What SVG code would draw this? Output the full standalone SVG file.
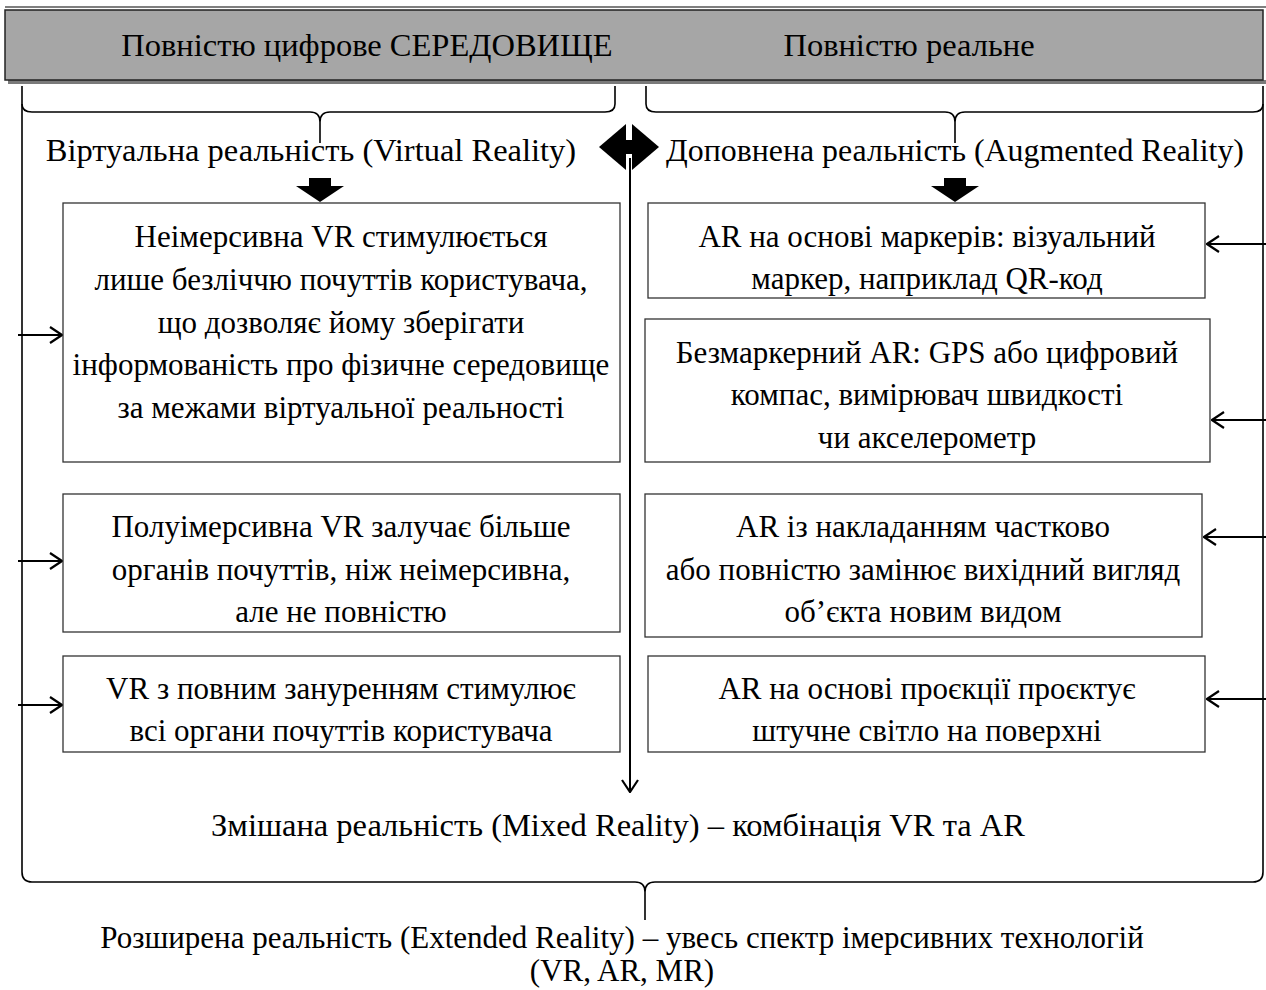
<svg xmlns="http://www.w3.org/2000/svg" width="1266" height="990" viewBox="0 0 1266 990">
<style>
  text { font-family: "Liberation Serif", "Times New Roman", serif; font-size: 31px; fill: #000; text-anchor: middle; }
  .lbl { font-size: 32.5px; }
  .box { fill: #fff; stroke: #333; stroke-width: 1.3; }
  .ln { fill: none; stroke: #000; stroke-width: 2; }
  .br { fill: none; stroke: #000; stroke-width: 1.6; }
</style>
<defs>
  <marker id="open" viewBox="0 0 14 18" refX="13" refY="9" markerWidth="14" markerHeight="18" markerUnits="userSpaceOnUse" orient="auto">
    <path d="M1,1 L13,9 L1,17" fill="none" stroke="#000" stroke-width="2.2"/>
  </marker>
</defs>

<g id="header">
  <line x1="5" y1="7" x2="1266" y2="7" stroke="#000" stroke-width="1.2"/>
  <rect x="8" y="80" width="1258" height="4" fill="#7a7a7a"/>
  <rect x="5" y="10" width="1258" height="70" fill="#a6a6a6" stroke="#222" stroke-width="1.5"/>
  <text class="lbl" x="367" y="56">Повністю цифрове СЕРЕДОВИЩЕ</text>
  <text class="lbl" x="909" y="56">Повністю реальне</text>
</g>

<g id="connectors">
  <path class="br" d="M22,86 L22,104 Q22,112 32,112 L310,112 Q320,112 320,122 L320,143 M320,122 Q320,112 330,112 L605,112 Q615,112 615,104 L615,86"/>
  <path class="br" d="M646,86 L646,104 Q646,112 656,112 L945,112 Q955,112 955,122 L955,143 M955,122 Q955,112 965,112 L1253,112 Q1263,112 1263,104 L1263,86"/>
  <path class="br" d="M22,104 L22,872 Q22,882 32,882 L635,882 Q645,882 645,892 L645,920 M645,892 Q645,882 655,882 L1253,882 Q1263,882 1263,872 L1263,104"/>
  <polygon points="599,147 626,124 626,170" fill="#000"/>
  <polygon points="659,147 632,124 632,170" fill="#000"/>
  <rect x="625" y="140" width="8" height="14" fill="#000"/>
  <line class="ln" x1="630" y1="158" x2="630" y2="792" marker-end="url(#open)"/>
  <polygon points="309,178 331,178 331,186 344,186 320,202 296,186 309,186" fill="#000"/>
  <polygon points="944,178 966,178 966,186 979,186 955,202 931,186 944,186" fill="#000"/>
  <line class="ln" x1="18" y1="335" x2="62" y2="335" marker-end="url(#open)"/>
  <line class="ln" x1="18" y1="561" x2="62" y2="561" marker-end="url(#open)"/>
  <line class="ln" x1="18" y1="705" x2="62" y2="705" marker-end="url(#open)"/>
  <line class="ln" x1="1266" y1="244" x2="1207" y2="244" marker-end="url(#open)"/>
  <line class="ln" x1="1266" y1="420" x2="1212" y2="420" marker-end="url(#open)"/>
  <line class="ln" x1="1266" y1="537" x2="1204" y2="537" marker-end="url(#open)"/>
  <line class="ln" x1="1266" y1="699" x2="1207" y2="699" marker-end="url(#open)"/>
</g>

<g id="vr-label"><text class="lbl" x="311" y="161">Віртуальна реальність (Virtual Reality)</text></g>
<g id="ar-label"><text class="lbl" x="955" y="161" textLength="578" lengthAdjust="spacingAndGlyphs">Доповнена реальність (Augmented Reality)</text></g>

<g id="vr1">
  <rect class="box" x="63" y="203" width="557" height="259"/>
  <text x="341" y="247">Неімерсивна VR стимулюється</text>
  <text x="341" y="290">лише безліччю почуттів користувача,</text>
  <text x="341" y="333">що дозволяє йому зберігати</text>
  <text x="341" y="375">інформованість про фізичне середовище</text>
  <text x="341" y="418">за межами віртуальної реальності</text>
</g>
<g id="vr2">
  <rect class="box" x="63" y="494" width="557" height="138"/>
  <text x="341" y="537">Полуімерсивна VR залучає більше</text>
  <text x="341" y="580">органів почуттів, ніж неімерсивна,</text>
  <text x="341" y="622">але не повністю</text>
</g>
<g id="vr3">
  <rect class="box" x="63" y="656" width="557" height="96"/>
  <text x="341" y="699">VR з повним зануренням стимулює</text>
  <text x="341" y="741">всі органи почуттів користувача</text>
</g>

<g id="ar1">
  <rect class="box" x="648" y="203" width="557" height="95"/>
  <text x="927" y="247">AR на основі маркерів: візуальний</text>
  <text x="927" y="289">маркер, наприклад QR-код</text>
</g>
<g id="ar2">
  <rect class="box" x="645" y="319" width="565" height="143"/>
  <text x="927" y="363">Безмаркерний AR: GPS або цифровий</text>
  <text x="927" y="405">компас, вимірювач швидкості</text>
  <text x="927" y="448">чи акселерометр</text>
</g>
<g id="ar3">
  <rect class="box" x="645" y="494" width="557" height="143"/>
  <text x="923" y="537">AR із накладанням частково</text>
  <text x="923" y="580">або повністю замінює вихідний вигляд</text>
  <text x="923" y="622">об’єкта новим видом</text>
</g>
<g id="ar4">
  <rect class="box" x="648" y="656" width="557" height="96"/>
  <text x="927" y="699">AR на основі проєкції проєктує</text>
  <text x="927" y="741">штучне світло на поверхні</text>
</g>

<g id="mr-label"><text class="lbl" x="618" y="836">Змішана реальність (Mixed Reality) – комбінація VR та AR</text></g>
<g id="xr-label">
  <text x="622" y="948">Розширена реальність (Extended Reality) – увесь спектр імерсивних технологій</text>
  <text x="622" y="981">(VR, AR, MR)</text>
</g>
</svg>
